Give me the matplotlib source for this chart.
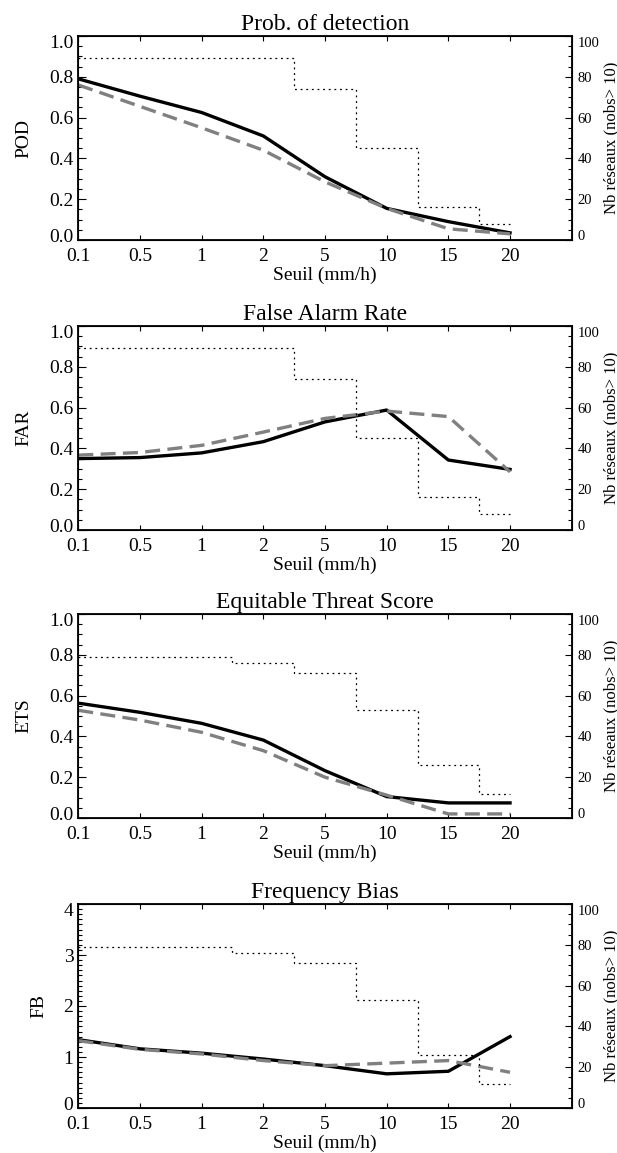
import numpy as np
import matplotlib
matplotlib.use('Agg')
import matplotlib.pyplot as plt
from matplotlib.ticker import MultipleLocator
from matplotlib.transforms import ScaledTranslation

plt.rcParams['font.family'] = 'serif'
plt.rcParams['font.serif'] = ['Liberation Serif', 'DejaVu Serif']

# thresholds (categorical x axis)
seuils = ['0.1', '0.5', '1', '2', '5', '10', '15', '20']

# scores: solid black (a) and dashed grey (b)
pod_a = [0.79, 0.705, 0.625, 0.51, 0.31, 0.155, 0.09, 0.035]
pod_b = [0.76, 0.655, 0.55, 0.44, 0.285, 0.155, 0.055, 0.03]
far_a = [0.35, 0.355, 0.378, 0.433, 0.53, 0.588, 0.343, 0.297]
far_b = [0.367, 0.38, 0.415, 0.48, 0.547, 0.583, 0.556, 0.285]
ets_a = [0.563, 0.518, 0.464, 0.382, 0.232, 0.105, 0.074, 0.074]
ets_b = [0.528, 0.48, 0.42, 0.33, 0.2, 0.112, 0.02, 0.02]
fb_a = [1.34, 1.16, 1.075, 0.96, 0.83, 0.67, 0.72, 1.40]
fb_b = [1.32, 1.15, 1.06, 0.93, 0.83, 0.88, 0.93, 0.70]

# number of networks (nobs > 10), right axis
nb_pod_far = [89, 89, 89, 89, 74, 45, 16, 8]
nb_ets_fb = [79, 79, 79, 76, 71, 53, 26, 12]

panels = [
    ('Prob. of detection', 'POD', pod_a, pod_b, nb_pod_far, 1.0),
    ('False Alarm Rate', 'FAR', far_a, far_b, nb_pod_far, 1.0),
    ('Equitable Threat Score', 'ETS', ets_a, ets_b, nb_ets_fb, 1.0),
    ('Frequency Bias', 'FB', fb_a, fb_b, nb_ets_fb, 4.0),
]

W, H = 617, 1153
fig = plt.figure(figsize=(W / 100, H / 100), dpi=100)

left, right = 78.3, 571.7
tops = [36, 326, 614, 904]
ax_h = 204

x = np.arange(len(seuils))

up = ScaledTranslation(0, 5 / 100, fig.dpi_scale_trans)
down = ScaledTranslation(0, -6 / 100, fig.dpi_scale_trans)

for (title, ylab, a, b, nb, ymax), top in zip(panels, tops):
    rect = [left / W, 1 - (top + ax_h) / H, (right - left) / W, ax_h / H]
    ax = fig.add_axes(rect)
    ax.plot(x, a, color='black', lw=2.4, zorder=3)
    ax.plot(x, b, color='#808080', lw=2.4, dashes=(4.5, 2.2), zorder=4)
    ax.set_xlim(0, 8)
    ax.set_ylim(0, ymax)
    ax.set_xticks(x)
    ax.set_xticklabels(seuils)
    if ymax == 1.0:
        ax.set_yticks(np.arange(0, 1.01, 0.2))
        ax.set_yticklabels(['%.1f' % v for v in np.arange(0, 1.01, 0.2)])
        ax.yaxis.set_minor_locator(MultipleLocator(0.05))
    else:
        ax.set_yticks(np.arange(0, 4.01, 1))
        ax.set_yticklabels(['%d' % v for v in np.arange(0, 4.01, 1)])
        ax.yaxis.set_minor_locator(MultipleLocator(0.1))
    ax.tick_params(axis='x', which='major', direction='in', length=3.6, width=0.8,
                   top=True, bottom=True, labelsize=14, pad=5.5)
    ax.tick_params(axis='y', which='major', direction='in', length=5.8, width=0.8,
                   left=True, right=False, labelsize=14, pad=3.5)
    ax.tick_params(axis='y', which='minor', direction='in', length=3.2, width=0.8,
                   left=True, right=False)
    for sp in ax.spines.values():
        sp.set_linewidth(1.3)
    ax.set_title(title, fontsize=17, pad=4)
    ax.set_xlabel('Seuil (mm/h)', fontsize=14, labelpad=1.5)
    ax.set_ylabel(ylab, fontsize=14, labelpad=12)

    ax2 = ax.twinx()
    ax2.step(x, nb, where='mid', color='black', lw=0.9, dashes=(1.5, 3))
    ax2.set_ylim(0, 100)
    ax2.set_yticks(np.arange(0, 101, 20))
    ax2.yaxis.set_minor_locator(MultipleLocator(5))
    ax2.tick_params(axis='y', which='major', direction='in', length=5, width=0.8,
                    labelsize=10.5, pad=4)
    ax2.tick_params(axis='y', which='minor', direction='in', length=2.8, width=0.8)
    ax2.set_ylabel('Nb réseaux (nobs> 10)', fontsize=12, labelpad=3)

    # end labels nudged inside the axis range
    for axis in (ax.yaxis, ax2.yaxis):
        ticks = axis.get_major_ticks()
        for lab in (ticks[0].label1, ticks[0].label2):
            lab.set_transform(lab.get_transform() + up)
        for lab in (ticks[-1].label1, ticks[-1].label2):
            lab.set_transform(lab.get_transform() + down)

fig.savefig('out.png', dpi=100)
